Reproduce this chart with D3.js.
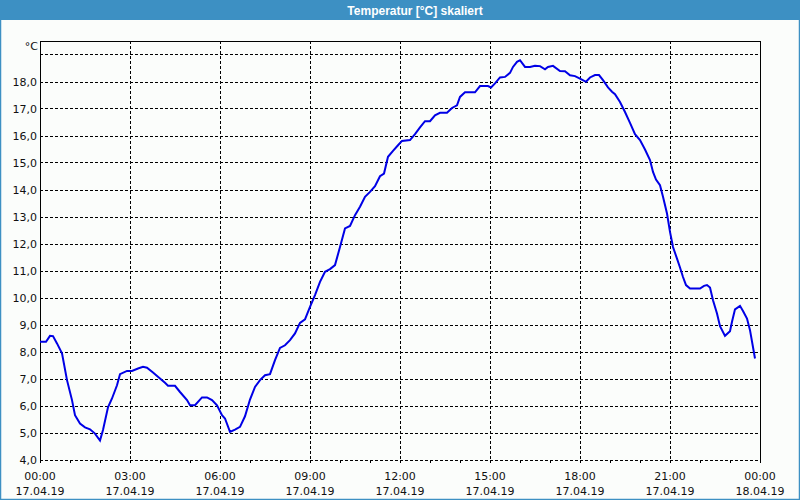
<!DOCTYPE html>
<html>
<head>
<meta charset="utf-8">
<script src="https://cdn.jsdelivr.net/npm/d3@7"></script>
<style>
  body { margin: 0; background: #fbfdfb; }
  text { font-family: "DejaVu Sans", sans-serif; font-size: 11px; fill: #111; }
</style>
</head>
<body>
<div class="chart"></div>
<script>
// minutes since 17.04.19 00:00
var minutes = [0, 12, 20, 26, 34, 44, 54, 64, 70, 80, 90, 100, 110, 120, 126, 136, 144, 154, 160, 174,
  184, 196, 206, 214, 226, 240, 250, 256, 270, 280, 294, 300, 310, 324, 334, 344, 354, 364, 370, 380,
  390, 400, 410, 420, 430, 440, 450, 460, 470, 480, 490, 500, 510, 520, 530, 540, 550, 560, 570, 580,
  590, 600, 610, 620, 630, 640, 650, 660, 670, 680, 688, 696, 706, 716, 724, 740, 750, 760, 770, 780,
  790, 800, 814, 824, 834, 840, 850, 870, 880, 896, 902, 910, 920, 930, 940, 946, 954, 960, 970, 980,
  990, 1000, 1010, 1016, 1026, 1040, 1050, 1060, 1070, 1080, 1092, 1100, 1110, 1118, 1126, 1136, 1144, 1150, 1160, 1170,
  1180, 1190, 1200, 1210, 1220, 1226, 1232, 1240, 1246, 1254, 1260, 1266, 1274, 1280, 1286, 1292, 1300, 1320, 1328, 1334,
  1340, 1346, 1354, 1360, 1370, 1380, 1384, 1390, 1400, 1406, 1414, 1420, 1430];
var temps = [8.36, 8.36, 8.58, 8.57, 8.30, 7.93, 6.94, 6.20, 5.64, 5.33, 5.19, 5.12, 4.96, 4.70, 5.09, 5.93, 6.26, 6.75, 7.16, 7.28,
  7.28, 7.37, 7.43, 7.40, 7.22, 7.00, 6.84, 6.73, 6.73, 6.50, 6.20, 6.01, 6.01, 6.30, 6.30, 6.20, 6.01, 5.64, 5.52, 5.02,
  5.11, 5.21, 5.60, 6.22, 6.69, 6.94, 7.12, 7.16, 7.68, 8.13, 8.23, 8.42, 8.67, 9.06, 9.19, 9.65, 10.09, 10.58, 10.95, 11.05,
  11.20, 11.87, 12.56, 12.65, 13.05, 13.36, 13.73, 13.91, 14.12, 14.49, 14.59, 15.21, 15.43, 15.64, 15.80, 15.83, 16.05, 16.30, 16.53, 16.53,
  16.75, 16.84, 16.84, 17.02, 17.12, 17.43, 17.60, 17.60, 17.83, 17.83, 17.78, 17.93, 18.15, 18.17, 18.32, 18.54, 18.73, 18.79, 18.54, 18.54,
  18.58, 18.57, 18.45, 18.54, 18.58, 18.39, 18.38, 18.23, 18.20, 18.11, 17.99, 18.15, 18.24, 18.24, 18.05, 17.78, 17.62, 17.53, 17.24, 16.87,
  16.47, 16.05, 15.83, 15.48, 15.09, 14.65, 14.37, 14.16, 13.73, 13.11, 12.43, 11.87, 11.44, 11.11, 10.76, 10.46, 10.33, 10.33, 10.43, 10.46,
  10.37, 9.90, 9.41, 8.94, 8.58, 8.75, 9.10, 9.56, 9.69, 9.50, 9.22, 8.79, 7.74];

var timeTicks = [0, 180, 360, 540, 720, 900, 1080, 1260, 1440];
var timeLabels = ["00:00", "03:00", "06:00", "09:00", "12:00", "15:00", "18:00", "21:00", "00:00"];
var dateLabels = ["17.04.19", "17.04.19", "17.04.19", "17.04.19", "17.04.19", "17.04.19", "17.04.19", "17.04.19", "18.04.19"];
var tempTicks = [4, 5, 6, 7, 8, 9, 10, 11, 12, 13, 14, 15, 16, 17, 18];
var title = "Temperatur [°C] skaliert";

var svgWidth = 800;
var svgHeight = 500;
var margin = { top: 41, right: 40, bottom: 40.5, left: 40 };

var svg = d3.select(".chart")
  .append("svg")
  .attr("width", svgWidth)
  .attr("height", svgHeight);

var x = d3.scaleLinear().domain([0, 1440]).range([margin.left, svgWidth - margin.right]);
var y = d3.scaleLinear().domain([4, 19.5]).range([svgHeight - margin.bottom, margin.top]);

// window frame + title bar
svg.append("rect")
  .attr("x", 0.5).attr("y", 0.5)
  .attr("width", svgWidth - 1).attr("height", svgHeight - 1)
  .attr("fill", "#fbfdfb")
  .attr("stroke", "#3d90c3")
  .attr("stroke-width", 1.5);
svg.append("rect")
  .attr("x", 0).attr("y", 0)
  .attr("width", svgWidth).attr("height", 20)
  .attr("fill", "#3d90c3");
svg.append("text")
  .attr("x", 415).attr("y", 14.5)
  .attr("text-anchor", "middle")
  .style("font-family", "'Liberation Sans', sans-serif")
  .style("font-weight", "bold")
  .style("font-size", "12px")
  .style("fill", "#fff")
  .text(title);

var grid = svg.append("g")
  .attr("stroke", "#000")
  .attr("stroke-width", 1)
  .attr("stroke-dasharray", "3,2")
  .attr("shape-rendering", "crispEdges");

// horizontal gridlines 4..19
grid.selectAll("line.h")
  .data(d3.range(4, 20))
  .enter().append("line")
  .attr("x1", x(0)).attr("x2", x(1440))
  .attr("y1", function(d) { return Math.round(y(d)) + 0.5; })
  .attr("y2", function(d) { return Math.round(y(d)) + 0.5; });

// vertical gridlines every 3h
grid.selectAll("line.v")
  .data(timeTicks.slice(1, -1))
  .enter().append("line")
  .attr("x1", function(d) { return Math.round(x(d)) + 0.5; })
  .attr("x2", function(d) { return Math.round(x(d)) + 0.5; })
  .attr("y1", y(19.5)).attr("y2", y(4));

// left, top, right frame of plot
svg.append("path")
  .attr("d", "M" + (x(0) + 0.5) + "," + (Math.round(y(4)) + 0.5) +
    "V" + (Math.round(y(19.5)) + 0.5) +
    "H" + (x(1440) + 0.5) +
    "V" + (Math.round(y(4)) + 0.5))
  .attr("fill", "none")
  .attr("stroke", "#000")
  .attr("stroke-width", 1)
  .attr("shape-rendering", "crispEdges");

// hourly ticks
svg.append("g").selectAll("line")
  .data(d3.range(0, 1441, 60))
  .enter().append("line")
  .attr("x1", function(d) { return Math.round(x(d)) + 0.5; })
  .attr("x2", function(d) { return Math.round(x(d)) + 0.5; })
  .attr("y1", Math.round(y(4)))
  .attr("y2", Math.round(y(4)) + 3)
  .attr("stroke", "#000")
  .attr("shape-rendering", "crispEdges");

// y labels
svg.append("g").selectAll("text")
  .data(tempTicks)
  .enter().append("text")
  .attr("x", 37)
  .attr("y", function(d) { return y(d); })
  .attr("dy", "0.38em")
  .attr("text-anchor", "end")
  .text(function(d) { return d.toFixed(1).replace(".", ","); });

svg.append("text")
  .attr("x", 38).attr("y", 50)
  .attr("text-anchor", "end")
  .text("°C");

// x labels
var xl = svg.append("g").selectAll("g")
  .data(timeTicks)
  .enter().append("g");
xl.append("text")
  .attr("x", function(d) { return x(d); })
  .attr("y", 479.5)
  .attr("text-anchor", "middle")
  .text(function(d, i) { return timeLabels[i]; });
xl.append("text")
  .attr("x", function(d) { return x(d); })
  .attr("y", 494.5)
  .attr("text-anchor", "middle")
  .text(function(d, i) { return dateLabels[i]; });

// temperature line
var line = d3.line()
  .x(function(d, i) { return x(minutes[i]); })
  .y(function(d) { return y(d); });

svg.append("path")
  .datum(temps)
  .attr("d", line)
  .attr("fill", "none")
  .attr("stroke", "#0000e6")
  .attr("stroke-width", 2);
</script>
</body>
</html>
